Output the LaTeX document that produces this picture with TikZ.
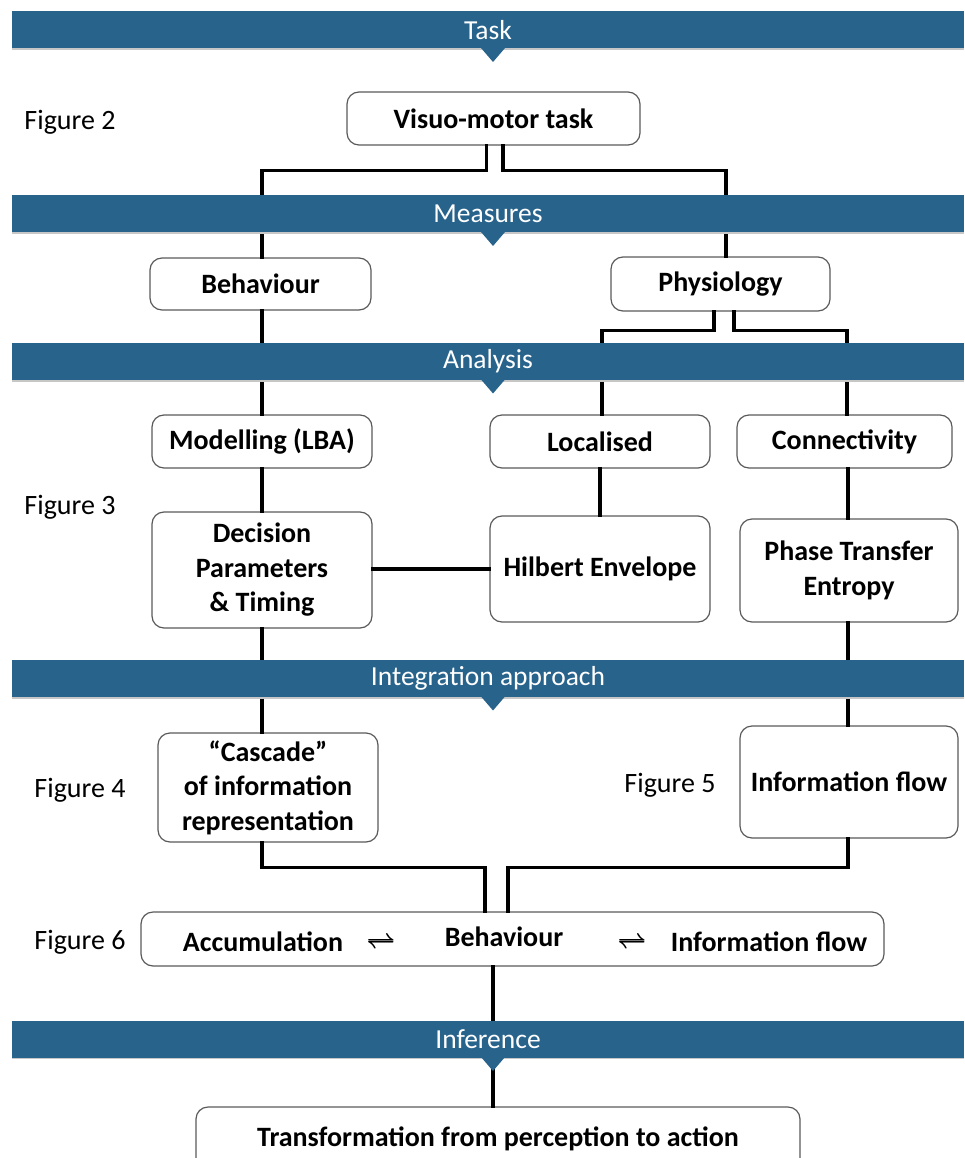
\documentclass[tikz,border=0pt]{standalone}
\usepackage{fontspec}
\setmainfont{Carlito}
\definecolor{bannerblue}{RGB}{40,99,140}
\definecolor{boxedge}{RGB}{90,90,90}
\newcommand{\eqharp}{\mbox{\boldmath$\rightleftharpoons$}}
\begin{document}
\begin{tikzpicture}[x=1pt,y=-1pt,
  box/.style={draw=boxedge, line width=1.2pt, rounded corners=12pt, fill=white, align=center,
    font=\fontsize{28}{34.5}\selectfont\bfseries, inner sep=0pt},
  banner/.style={fill=bannerblue, text=white, minimum width=952pt, minimum height=37pt, inner sep=0pt,
    font=\fontsize{27.5}{32}\selectfont},
  conn/.style={line width=3.3pt, line cap=rect},
  figlabel/.style={font=\fontsize{28}{32}\selectfont, inner sep=0pt},
  bigtext/.style={font=\fontsize{28}{32}\selectfont\bfseries, inner sep=0pt}
]
\useasboundingbox (0,0) rectangle (964,1158);

% boxes
\node[box, minimum width=293pt, minimum height=53pt] (vmt) at (493.5,118.5) {Visuo-motor task};
\node[box, minimum width=221pt, minimum height=52pt] (beh) at (260.5,284) {Behaviour};
\node[box, minimum width=219pt, minimum height=54pt] (phy) at (720.5,284) {Physiology};
\node[box, minimum width=220pt, minimum height=53pt] (mod) at (262,441.5) {Modelling (LBA)};
\node[box, minimum width=220pt, minimum height=53pt] (loc) at (600,441.5) {Localised};
\node[box, minimum width=215pt, minimum height=53pt] (con) at (844.5,441.5) {Connectivity};
\node[box, minimum width=220pt, minimum height=116pt] (dec) at (262,570) {Decision\\Parameters\\\& Timing};
\node[box, minimum width=220pt, minimum height=106pt] (hil) at (600,569) {Hilbert Envelope};
\node[box, minimum width=218pt, minimum height=103pt] (pte) at (849,570.5) {Phase Transfer\\Entropy};
\node[box, minimum width=220pt, minimum height=109pt] (cas) at (268,787.5) {``Cascade''\\of information\\representation};
\node[box, minimum width=218pt, minimum height=112pt] (inf) at (849,782) {Information flow};
\node[box, minimum width=743pt, minimum height=54pt] (big) at (512.5,939) {};
\node[box, minimum width=604pt, minimum height=64pt] (tra) at (498,1139) {Transformation from perception to action};

% texts inside big box
\node[bigtext] (acc) at (263,942) {Accumulation};
\node[bigtext] (eq1) at (381,943) {\eqharp};
\node[bigtext] (bh2) at (504,937) {Behaviour};
\node[bigtext] (eq2) at (632,943) {\eqharp};
\node[bigtext] (iflow) at (769,942) {Information flow};

% figure labels
\node[figlabel] (f2) at (70,122) {Figure 2};
\node[figlabel] (f3) at (70,507) {Figure 3};
\node[figlabel] (f4) at (80,790) {Figure 4};
\node[figlabel] (f5) at (670,785) {Figure 5};
\node[figlabel] (f6) at (80,942) {Figure 6};

% connectors (drawn before banners so banners cover them)
\draw[conn] ([xshift=-7pt]vmt.south) -- ++(0,25) -| ([xshift=1.5pt]beh.north);
\draw[conn] ([xshift=9.5pt]vmt.south) -- ++(0,25) -| ([xshift=5.5pt]phy.north);
\draw[conn] ([xshift=1.5pt]beh.south) -- (mod.north);
\draw[conn] ([xshift=-6.5pt]phy.south) -- ++(0,19) -| ([xshift=2pt]loc.north);
\draw[conn] ([xshift=13.5pt]phy.south) -- ++(0,19) -| ([xshift=2.5pt]con.north);
\draw[conn] (mod.south) -- (dec.north);
\draw[conn] (loc.south) -- (hil.north);
\draw[conn] ([xshift=-1pt]pte.north |- con.south) -- ([xshift=-1pt]pte.north);
\draw[conn] (dec.east |- hil.west) -- (hil.west);
\draw[conn] (dec.south) -- (dec.south |- cas.north);
\draw[conn] ([xshift=-1pt]pte.south) -- ([xshift=-1pt]inf.north);
\draw[conn] (dec.south |- cas.south) -- ++(0,25) -| ([xshift=-27.5pt]big.north);
\draw[conn] ([xshift=-1pt]inf.south) -- ++(0,29) -| ([xshift=-4.5pt]big.north);
\draw[conn] ([xshift=-19.5pt]big.south) -- ([xshift=-5pt]tra.north);

% banners
\foreach \nm/\yy/\txt in {bTask/30/Task, bMeas/214/Measures, bAna/361.5/Analysis, bInt/678.5/Integration approach, bInf/1039/Inference}{
  \fill[black!22] (12,\yy+18.5) rectangle (964,\yy+20);
  \node[banner] (\nm) at (488,\yy) {\txt};
  \fill[bannerblue] (481,\yy+18) -- (505,\yy+18) -- (493,\yy+32) -- cycle;
}
\end{tikzpicture}
\end{document}
